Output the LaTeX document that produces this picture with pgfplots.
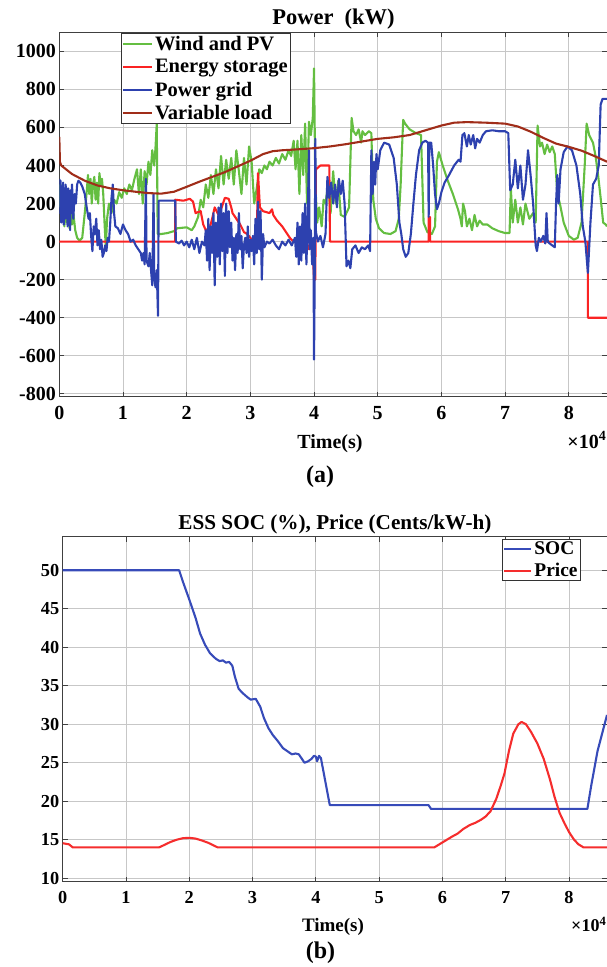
\documentclass[border=0pt]{standalone}
\usepackage{fontspec}
\setmainfont{Liberation Serif}
\usepackage{pgfplots}
\pgfplotsset{compat=1.18}
\definecolor{cgreen}{RGB}{100,190,65}
\definecolor{cred}{RGB}{250,35,35}
\definecolor{cblue}{RGB}{45,65,175}
\definecolor{cbrown}{RGB}{160,45,25}
\definecolor{csoc}{RGB}{55,75,185}
\definecolor{cprice}{RGB}{245,45,45}
\begin{document}
\begin{tikzpicture}
\useasboundingbox (0pt,0pt) rectangle (607pt,967pt);
% ---------------- (a) ----------------
\begin{axis}[
 at={(59.3pt,570.3pt)}, anchor=south west, scale only axis,
 width=547.7pt, height=364.4pt,
 xmin=0, xmax=8.6, ymin=-815, ymax=1100,
 xtick={0,1,2,3,4,5,6,7,8}, xticklabels={0,1,2,3,4,5,6,7,8},
 ytick={-800,-600,-400,-200,0,200,400,600,800,1000},
 yticklabels={-800,-600,-400,-200,0,200,400,600,800,1000},
 grid=major, grid style={black!22, line width=0.9pt},
 axis line style={black!75, line width=1pt},
 tick align=inside, major tick length=5pt, tick style={black!75, line width=0.8pt},
 tick label style={font=\bfseries\fontsize{20}{24}\selectfont},
 xticklabel style={yshift=-6pt},
 legend style={at={(0.112,0.997)}, anchor=north west, draw=black!80, line width=0.8pt,
   font=\bfseries\fontsize{20.5}{22}\selectfont, inner xsep=1pt, inner ysep=1pt,
   row sep=4.5pt, nodes={inner ysep=1.5pt, inner xsep=2pt}},
 legend cell align=left,
 legend image code/.code={\draw[#1, line width=2pt] (0pt,0pt) -- (29pt,0pt);},
 every axis plot/.append style={line width=2.1pt, line join=round},
]
\addplot[cgreen] coordinates {
(0,180)(0.02,300)(0.04,120)(0.06,250)(0.08,80)(0.10,260)(0.12,100)(0.14,230)(0.16,70)(0.18,200)
(0.20,90)(0.22,150)(0.25,60)(0.28,20)(0.32,5)(0.36,20)(0.40,150)(0.43,260)(0.45,350)(0.47,250)
(0.49,330)(0.51,200)(0.53,300)(0.55,340)(0.57,220)(0.59,310)(0.61,200)(0.63,360)(0.65,300)(0.67,330)
(0.69,250)(0.71,100)(0.73,-30)(0.75,120)(0.78,200)(0.82,150)(0.86,220)(0.90,200)(0.94,260)(0.98,230)
(1.02,280)(1.06,250)(1.10,300)(1.14,270)(1.18,330)(1.22,380)(1.25,250)(1.28,380)(1.31,200)(1.34,370)
(1.37,300)(1.40,420)(1.43,350)(1.46,480)(1.49,400)(1.51,490)(1.53,620)(1.545,40)(1.6,40)(1.7,45)
(1.8,55)(1.85,70)(2.0,75)(2.08,60)(2.12,80)(2.18,130)(2.22,220)(2.26,180)(2.30,300)(2.34,230)
(2.38,350)(2.42,250)(2.46,380)(2.50,280)(2.54,450)(2.58,300)(2.62,430)(2.66,330)(2.70,440)(2.74,300)
(2.78,480)(2.82,370)(2.86,250)(2.90,440)(2.94,300)(2.98,500)(3.02,420)(3.06,200)(3.10,280)(3.14,380)
(3.18,360)(3.22,400)(3.26,380)(3.30,420)(3.35,400)(3.40,440)(3.45,410)(3.50,460)(3.55,430)(3.60,480)
(3.64,450)(3.68,530)(3.71,380)(3.74,530)(3.77,250)(3.80,560)(3.83,350)(3.86,620)(3.89,200)(3.92,630)
(3.95,560)(3.98,650)(4.00,910)(4.02,300)(4.05,100)(4.08,180)(4.12,80)(4.15,220)(4.18,200)(4.22,300)
(4.26,150)(4.30,370)(4.34,200)(4.38,320)(4.42,140)(4.48,130)(4.55,180)(4.59,650)(4.62,580)(4.66,560)
(4.70,590)(4.74,520)(4.76,580)(4.80,560)(4.86,580)(4.90,570)(4.93,220)(4.97,120)(5.02,70)(5.10,45)
(5.20,40)(5.28,55)(5.33,120)(5.36,300)(5.38,480)(5.40,640)(5.43,620)(5.5,590)(5.6,570)(5.68,560)
(5.72,100)(5.78,50)(5.85,40)(5.90,80)(5.93,420)(5.96,470)(6.02,400)(6.10,320)(6.18,250)(6.26,170)
(6.30,120)(6.32,80)(6.34,200)(6.37,160)(6.40,80)(6.44,120)(6.48,60)(6.52,140)(6.56,80)(6.60,110)
(6.65,90)(6.72,90)(6.80,70)(6.90,55)(7.00,45)(7.07,45)(7.09,280)(7.12,100)(7.16,220)(7.20,100)
(7.24,180)(7.28,90)(7.32,200)(7.38,120)(7.44,150)(7.48,100)(7.51,610)(7.55,500)(7.58,520)(7.62,460)
(7.66,510)(7.70,470)(7.74,500)(7.78,460)(7.82,250)(7.86,200)(7.92,100)(8.0,30)(8.08,10)(8.14,20)
(8.20,100)(8.25,400)(8.28,620)(8.32,560)(8.38,520)(8.42,450)(8.46,350)(8.50,230)(8.54,100)(8.58,90)(8.6,80)
};
\addlegendentry{Wind and PV}
\addplot[cred] coordinates {
(0,0)(1.82,0)(1.82,220)(1.95,215)(2.05,225)(2.10,210)(2.14,150)(2.22,160)(2.26,90)(2.30,60)
(2.36,70)(2.40,120)(2.44,180)(2.50,140)(2.55,180)(2.60,230)(2.66,225)(2.70,180)(2.72,150)(2.78,120)
(2.84,90)(2.90,50)(2.95,40)(3.00,20)(3.05,-10)(3.08,-20)(3.10,10)(3.12,360)(3.15,180)(3.20,160)
(3.30,150)(3.34,170)(3.36,140)(3.42,110)(3.50,80)(3.56,50)(3.62,20)(3.66,5)(3.72,0)(3.76,-30)
(3.80,10)(3.84,-50)(3.88,0)(3.92,-40)(3.96,10)(3.98,-60)(4.00,-200)(4.02,-200)(4.03,380)(4.10,400)
(4.24,400)(4.25,0)(5.80,0)(5.80,130)(5.82,130)(5.82,0)(8.30,0)(8.30,-400)(8.6,-400)
};
\addlegendentry{Energy storage}
\addplot[cblue] coordinates {
(0,330)(0.01,150)(0.02,320)(0.03,100)(0.04,290)(0.05,180)(0.06,310)(0.07,90)(0.08,280)(0.09,120)
(0.10,300)(0.11,160)(0.12,260)(0.13,80)(0.14,280)(0.15,100)(0.16,250)(0.17,60)(0.18,270)(0.19,150)
(0.20,300)(0.22,120)(0.24,250)(0.26,200)(0.28,300)(0.30,320)(0.33,310)(0.36,290)(0.40,250)(0.43,180)
(0.46,120)(0.48,150)(0.50,30)(0.52,-50)(0.54,80)(0.56,40)(0.58,120)(0.60,-20)(0.62,60)(0.64,-40)
(0.66,10)(0.68,-80)(0.70,-60)(0.72,-20)(0.74,-50)(0.76,20)(0.78,0)(0.80,100)(0.82,230)(0.84,300)
(0.86,150)(0.88,80)(0.92,70)(0.96,40)(1.0,90)(1.04,60)(1.08,40)(1.12,0)(1.16,10)(1.20,-20)
(1.24,-40)(1.28,-60)(1.30,-100)(1.32,-60)(1.34,-120)(1.36,330)(1.37,-100)(1.40,-130)(1.42,-60)(1.44,-150)
(1.46,-230)(1.48,250)(1.49,-180)(1.51,-240)(1.53,-150)(1.55,-390)(1.56,215)(1.82,215)(1.83,0)(1.88,-10)
(1.92,5)(1.96,-20)(2.0,0)(2.04,-30)(2.08,10)(2.12,-40)(2.16,20)(2.20,-60)(2.24,0)(2.28,-20)
(2.30,60)(2.32,-100)(2.34,120)(2.36,-150)(2.38,80)(2.40,-60)(2.42,150)(2.44,-230)(2.46,100)(2.48,-80)
(2.50,180)(2.52,-120)(2.54,200)(2.56,-50)(2.58,150)(2.60,-180)(2.62,200)(2.64,-60)(2.66,160)(2.68,-30)
(2.70,100)(2.72,-100)(2.74,20)(2.76,-150)(2.78,40)(2.80,-60)(2.82,150)(2.84,-40)(2.86,30)(2.88,-140)
(2.90,-20)(2.92,20)(2.94,-60)(2.96,80)(2.98,-80)(3.00,10)(3.02,-50)(3.04,30)(3.06,-120)(3.08,120)
(3.10,-60)(3.12,210)(3.14,-40)(3.16,160)(3.18,-200)(3.20,40)(3.22,-30)(3.26,0)(3.30,-10)(3.35,10)
(3.40,-20)(3.45,-40)(3.50,0)(3.55,-20)(3.60,10)(3.65,-20)(3.70,20)(3.72,-80)(3.74,100)(3.76,-120)
(3.78,80)(3.80,-100)(3.82,150)(3.84,-60)(3.86,200)(3.88,-120)(3.90,100)(3.92,480)(3.93,-40)(3.95,60)
(3.97,-120)(3.99,20)(4.00,-620)(4.01,-200)(4.02,540)(4.03,50)(4.06,0)(4.10,30)(4.14,-30)(4.18,40)
(4.21,340)(4.24,230)(4.27,310)(4.30,200)(4.33,300)(4.36,180)(4.39,330)(4.42,250)(4.45,320)(4.48,200)
(4.51,-130)(4.54,-100)(4.57,-140)(4.60,-40)(4.65,-20)(4.70,-60)(4.75,-30)(4.80,-40)(4.85,-20)(4.88,-50)
(4.90,480)(4.92,250)(4.94,420)(4.96,300)(4.98,460)(5.00,380)(5.04,480)(5.10,520)(5.18,510)(5.25,440)
(5.30,300)(5.34,100)(5.37,40)(5.40,-40)(5.44,-80)(5.48,-60)(5.52,40)(5.56,200)(5.60,350)(5.65,480)
(5.70,520)(5.75,530)(5.79,520)(5.80,130)(5.81,520)(5.84,520)(5.87,400)(5.90,250)(5.93,170)(5.96,200)
(6.0,260)(6.05,310)(6.12,350)(6.20,400)(6.27,430)(6.30,420)(6.33,560)(6.36,570)(6.40,500)(6.43,560)
(6.46,510)(6.50,560)(6.53,490)(6.56,540)(6.60,520)(6.65,560)(6.70,580)(6.80,585)(6.90,580)(7.00,580)
(7.05,570)(7.08,270)(7.12,300)(7.16,430)(7.20,280)(7.24,400)(7.28,220)(7.32,300)(7.36,480)(7.40,350)
(7.44,200)(7.48,-20)(7.50,-50)(7.53,20)(7.56,0)(7.60,30)(7.63,-10)(7.65,150)(7.67,0)(7.70,-10)
(7.74,-20)(7.78,-30)(7.80,200)(7.82,350)(7.84,200)(7.87,380)(7.92,470)(7.98,500)(8.05,480)(8.12,400)
(8.18,250)(8.22,80)(8.26,0)(8.30,-165)(8.34,100)(8.38,300)(8.43,330)(8.47,400)(8.50,720)(8.53,750)(8.6,750)
};
\addlegendentry{Power grid}
\addplot[cbrown] coordinates {
(0,550)(0.01,420)(0.03,400)(0.2,355)(0.4,320)(0.6,295)(0.8,280)(1.0,270)(1.2,262)(1.4,255)
(1.6,252)(1.8,262)(2.0,288)(2.2,315)(2.4,340)(2.6,365)(2.8,395)(3.0,425)(3.2,460)(3.35,475)
(3.5,480)(3.75,485)(4.0,491)(4.25,500)(4.5,512)(4.75,526)(5.0,540)(5.25,548)(5.5,560)(5.75,585)
(6.0,610)(6.2,625)(6.4,628)(6.7,625)(7.0,620)(7.2,605)(7.4,578)(7.6,545)(7.8,515)(8.0,498)
(8.2,478)(8.4,450)(8.6,420)
};
\addlegendentry{Variable load}
\end{axis}
\node[anchor=base, font=\bfseries\fontsize{22.5}{26}\selectfont] at (333.5pt,942pt) {Power\ \ (kW)};
\node[anchor=base, font=\bfseries\fontsize{20}{24}\selectfont] at (330pt,518.5pt) {Time(s)};
\node[anchor=base east, inner xsep=0pt, font=\bfseries\fontsize{20}{24}\selectfont] at (606.5pt,518.5pt) {×10\textsuperscript{4}};
\node[anchor=base, font=\bfseries\fontsize{24}{28}\selectfont] at (320pt,484.7pt) {(a)};
% ---------------- (b) ----------------
\begin{axis}[
 at={(62.7pt,85.3pt)}, anchor=south west, scale only axis,
 width=544.3pt, height=345pt,
 xmin=0, xmax=8.6, ymin=9.55, ymax=54.36,
 xtick={0,1,2,3,4,5,6,7,8}, xticklabels={0,1,2,3,4,5,6,7,8},
 ytick={10,15,20,25,30,35,40,45,50},
 yticklabels={10,15,20,25,30,35,40,45,50},
 grid=major, grid style={black!22, line width=0.9pt},
 axis line style={black!75, line width=1pt},
 tick align=inside, major tick length=5pt, tick style={black!75, line width=0.8pt},
 tick label style={font=\bfseries\fontsize{18.3}{22}\selectfont},
 xticklabel style={yshift=-6pt},
 legend style={at={(0.952,0.993)}, anchor=north east, draw=black!80, line width=0.8pt,
   font=\bfseries\fontsize{19.4}{22}\selectfont, inner xsep=1pt, inner ysep=1pt,
   row sep=4pt, nodes={inner ysep=1.5pt, inner xsep=2pt}},
 legend cell align=left,
 legend image code/.code={\draw[#1, line width=2pt] (0pt,0pt) -- (27pt,0pt);},
 every axis plot/.append style={line width=2.1pt, line join=round},
]
\addplot[csoc] coordinates {
(0,50)(1.84,50)(1.9,48.5)(2.0,46.2)(2.1,43.8)(2.17,41.8)(2.25,40.3)(2.33,39.2)(2.42,38.5)(2.48,38.2)
(2.53,38.3)(2.58,38.0)(2.63,38.1)(2.68,37.6)(2.72,36.2)(2.78,34.6)(2.85,34.0)(2.92,33.5)(2.97,33.2)(3.05,33.3)
(3.12,32.3)(3.18,30.8)(3.25,29.5)(3.32,28.6)(3.40,27.8)(3.48,26.9)(3.55,26.5)(3.62,26.1)(3.68,26.2)(3.73,26.1)
(3.78,25.5)(3.82,25.0)(3.88,25.2)(3.93,25.5)(3.97,25.9)(4.00,25.8)(4.02,25.2)(4.05,25.9)(4.08,25.6)(4.22,19.5)
(5.78,19.5)(5.82,19.0)(8.29,19.0)(8.35,22)(8.45,26.5)(8.6,31.2)
};
\addlegendentry{SOC}
\addplot[cprice] coordinates {
(0,14.55)(0.1,14.4)(0.16,14.0)(1.52,14.0)(1.6,14.3)(1.7,14.7)(1.8,15.0)(1.9,15.2)(2.0,15.25)(2.1,15.15)
(2.2,14.9)(2.3,14.6)(2.4,14.2)(2.45,14.0)(5.87,14.0)(5.95,14.4)(6.05,14.9)(6.15,15.4)(6.24,15.8)(6.33,16.4)
(6.43,16.9)(6.52,17.2)(6.61,17.6)(6.68,18.0)(6.76,18.7)(6.85,20.3)(6.92,22.0)(6.98,23.6)(7.05,26.5)(7.12,28.8)
(7.2,30.0)(7.25,30.3)(7.32,30.0)(7.4,29.0)(7.5,27.5)(7.6,25.5)(7.7,22.8)(7.77,20.6)(7.85,18.5)(7.93,17.1)
(8.0,16.0)(8.08,15.0)(8.15,14.4)(8.23,14.0)(8.6,14.0)
};
\addlegendentry{Price}
\end{axis}
\node[anchor=base, font=\bfseries\fontsize{21.2}{25}\selectfont] at (335pt,437.7pt) {ESS SOC (\%), Price (Cents/kW-h)};
\node[anchor=base, font=\bfseries\fontsize{19}{23}\selectfont] at (333pt,35.5pt) {Time(s)};
\node[anchor=base east, inner xsep=0pt, font=\bfseries\fontsize{18}{22}\selectfont] at (606.5pt,35.5pt) {×10\textsuperscript{4}};
\node[anchor=base, font=\bfseries\fontsize{24}{28}\selectfont] at (320.5pt,9pt) {(b)};
\end{tikzpicture}
\end{document}
